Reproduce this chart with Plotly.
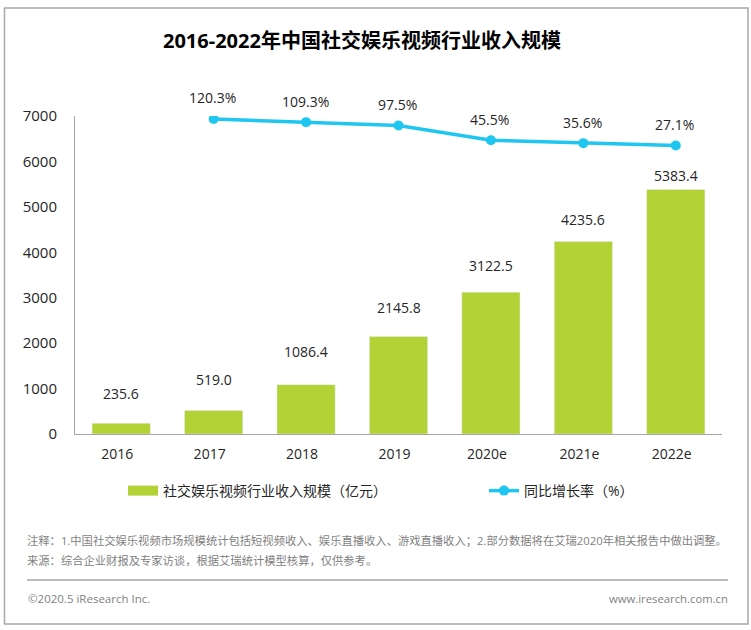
import plotly.graph_objects as go

FONT = "Open Sans, Noto Sans CJK SC, sans-serif"

years = ["2016", "2017", "2018", "2019", "2020e", "2021e", "2022e"]
revenue = [235.6, 519.0, 1086.4, 2145.8, 3122.5, 4235.6, 5383.4]
growth_years = ["2017", "2018", "2019", "2020e", "2021e", "2022e"]
growth = [120.3, 109.3, 97.5, 45.5, 35.6, 27.1]
y_ticks = [0, 1000, 2000, 3000, 4000, 5000, 6000, 7000]

# gaps above the bars differ in the original, labels were placed by hand
bar_label_shift = [30, 31, 33, 29, 27, 22, 14]

title = "2016-2022年中国社交娱乐视频行业收入规模"
bar_name = "社交娱乐视频行业收入规模（亿元）"
line_name = "同比增长率（%）"
note1 = "注释：1.中国社交娱乐视频市场规模统计包括短视频收入、娱乐直播收入、游戏直播收入；2.部分数据将在艾瑞2020年相关报告中做出调整。"
note2 = "来源：综合企业财报及专家访谈，根据艾瑞统计模型核算，仅供参考。"
foot_left = "©2020.5 iResearch Inc."
foot_right = "www.iresearch.com.cn"

W, H = 751, 630
L, R, T, B = 75, 722, 116, 434


def px(x):
    return (x - L) / (R - L)


def py(y):
    return (B - y) / (B - T)


fig = go.Figure()

fig.add_trace(go.Bar(
    x=years, y=revenue, marker_color="#b2d235", showlegend=False,
))
# thick empty line gives the wide legend swatch of the original
fig.add_trace(go.Scatter(
    x=[None], y=[None], mode="lines", name=bar_name,
    line=dict(color="#b2d235", width=10),
))
fig.add_trace(go.Scatter(
    x=growth_years, y=growth, yaxis="y2", mode="lines+markers", name=line_name,
    legend="legend2",
    line=dict(color="#1fc6f0", width=3.5),
    marker=dict(color="#1fc6f0", size=10),
))

# annotations on a category axis take the position, "2016" would be read as a number
annotations = []
for yr, v, s in zip(years, revenue, bar_label_shift):
    annotations.append(dict(
        x=years.index(yr), y=v, yref="y", text=f"{v:.1f}", showarrow=False, yshift=s,
        font=dict(size=14, color="#262626"),
    ))
for yr, v in zip(growth_years, growth):
    annotations.append(dict(
        x=years.index(yr), y=v, yref="y2", text=f"{v:.1f}%", showarrow=False, yshift=21,
        xshift=-1, font=dict(size=14, color="#262626"),
    ))


def add_text(text, x, y, size, color, anchor="left", bold=False):
    annotations.append(dict(
        xref="paper", yref="paper", x=px(x), y=py(y), text=f"<b>{text}</b>" if bold else text,
        showarrow=False, xanchor=anchor, yanchor="middle",
        font=dict(size=size, color=color),
    ))


add_text(title, 362, 40, 20, "#000000", anchor="center", bold=True)
add_text(note1, 25, 540, 11.3, "#7f7f7f")
add_text(note2, 25, 560, 11.3, "#7f7f7f")
add_text(foot_left, 26, 598, 11.5, "#7f7f7f")
add_text(foot_right, 730, 598, 11.3, "#7f7f7f", anchor="right")

legend_style = dict(
    orientation="h", xref="paper", yref="paper", yanchor="middle", itemwidth=30,
    font=dict(size=14, color="#262626"), bgcolor="rgba(0,0,0,0)",
)

fig.update_layout(
    width=W, height=H, autosize=False,
    margin=dict(l=L, r=W - R, t=T, b=H - B, pad=0),
    paper_bgcolor="white", plot_bgcolor="white",
    font=dict(family=FONT, color="#262626", size=14),
    bargap=0.37,
    xaxis=dict(
        type="category", categoryorder="array", categoryarray=years,
        range=[-0.5, 6.5],
        showline=True, linecolor="#a6a6a6", linewidth=1,
        showgrid=False, ticks="", ticklabelstandoff=7, ticklabelshift=-4,
        tickfont=dict(size=14, color="#262626"),
    ),
    yaxis=dict(
        range=[0, 7000], tickvals=y_ticks,
        showline=True, linecolor="#a6a6a6", linewidth=1,
        showgrid=False, zeroline=False, ticks="", ticklabelstandoff=14,
        tickfont=dict(size=15, color="#262626"),
    ),
    yaxis2=dict(range=[-985, 130.8], overlaying="y", side="right", visible=False),
    legend=dict(x=px(123), y=py(491), **legend_style),
    legend2=dict(x=px(484), y=py(491), **legend_style),
    annotations=annotations,
    shapes=[
        dict(type="rect", xref="paper", yref="paper", layer="below",
             x0=px(4.5), x1=px(748), y0=py(8), y1=py(624),
             line=dict(color="#a9a9a9", width=1.5)),
        dict(type="line", xref="paper", yref="paper",
             x0=px(27), x1=px(728), y0=py(580), y1=py(580),
             line=dict(color="#a6a6a6", width=1.5)),
    ],
)

fig.write_html(
    "out.html",
    config=dict(displayModeBar=False),
    post_script="document.body.style.margin='0';",
)
